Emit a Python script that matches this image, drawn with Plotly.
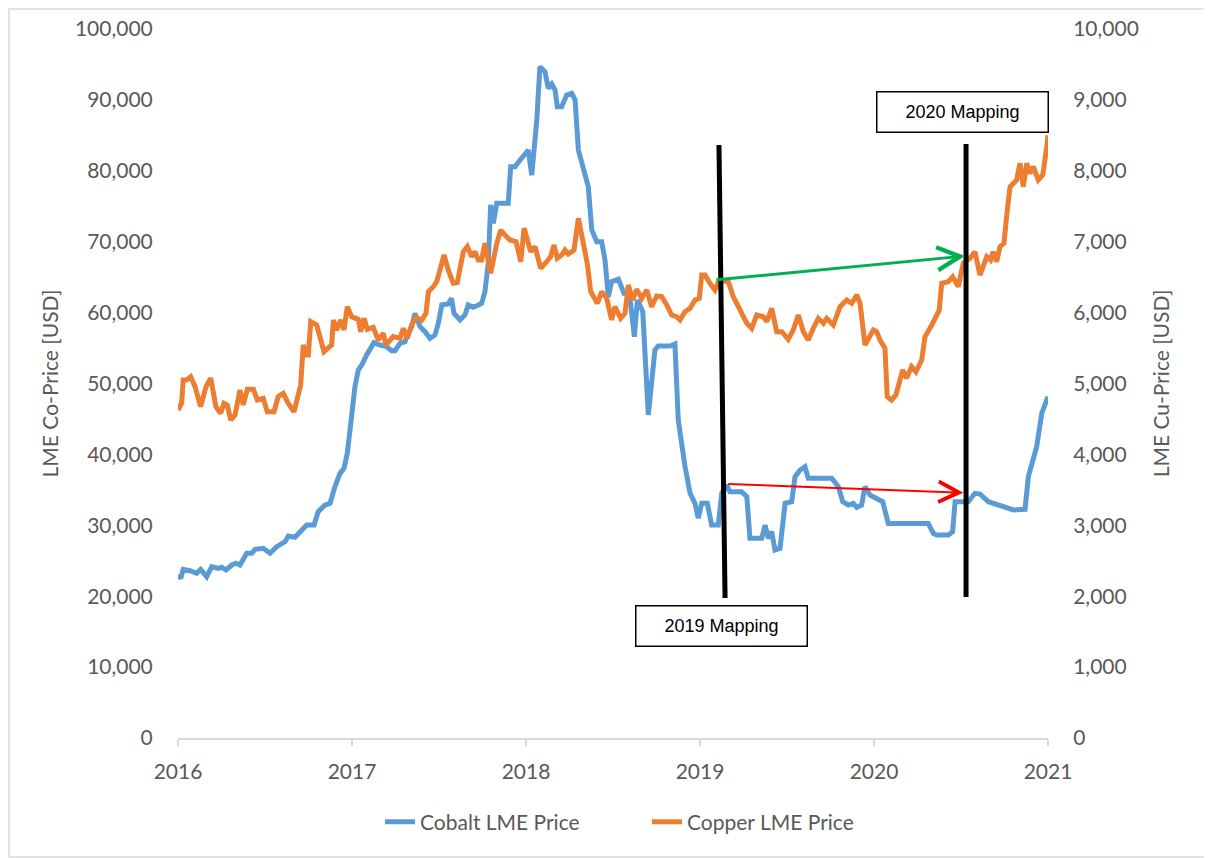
import plotly.graph_objects as go

# ---------------- data ----------------
cobalt_x = [2016.000, 2016.016, 2016.030, 2016.069, 2016.107, 2016.130, 2016.165, 2016.194, 2016.232, 2016.251,
            2016.276, 2016.309, 2016.333, 2016.356, 2016.395, 2016.424, 2016.443, 2016.490, 2016.529, 2016.567,
            2016.615, 2016.634, 2016.672, 2016.740, 2016.782, 2016.806, 2016.845, 2016.874, 2016.902, 2016.931,
            2016.954, 2016.973, 2016.993, 2017.017, 2017.036, 2017.056, 2017.084, 2017.113, 2017.126, 2017.161,
            2017.199, 2017.228, 2017.247, 2017.276, 2017.305, 2017.318, 2017.343, 2017.362, 2017.391, 2017.420,
            2017.448, 2017.477, 2017.496, 2017.516, 2017.553, 2017.572, 2017.586, 2017.621, 2017.649, 2017.668,
            2017.697, 2017.726, 2017.745, 2017.764, 2017.783, 2017.797, 2017.812, 2017.832, 2017.898, 2017.912,
            2017.937, 2017.966, 2018.000, 2018.013, 2018.033, 2018.062, 2018.080, 2018.109, 2018.128, 2018.148,
            2018.167, 2018.180, 2018.205, 2018.234, 2018.263, 2018.282, 2018.301, 2018.329, 2018.358, 2018.378,
            2018.407, 2018.435, 2018.454, 2018.473, 2018.492, 2018.531, 2018.563, 2018.594, 2018.623, 2018.640,
            2018.671, 2018.703, 2018.741, 2018.760, 2018.828, 2018.856, 2018.875, 2018.914, 2018.943, 2018.971,
            2018.990, 2019.010, 2019.042, 2019.067, 2019.105, 2019.125, 2019.153, 2019.172, 2019.239, 2019.269,
            2019.287, 2019.355, 2019.374, 2019.393, 2019.412, 2019.431, 2019.460, 2019.489, 2019.527, 2019.546,
            2019.575, 2019.603, 2019.622, 2019.757, 2019.795, 2019.820, 2019.852, 2019.881, 2019.901, 2019.929,
            2019.948, 2019.977, 2020.015, 2020.050, 2020.082, 2020.312, 2020.341, 2020.360, 2020.427, 2020.452,
            2020.466, 2020.542, 2020.580, 2020.609, 2020.657, 2020.685, 2020.724, 2020.753, 2020.801, 2020.868,
            2020.887, 2020.935, 2020.964, 2021.000]
cobalt_price = [22990, 22520, 23790, 23600, 23230, 23790, 22750, 24160, 23930, 24070,
                23700, 24400, 24640, 24400, 26050, 26050, 26610, 26750, 26050, 26980,
                27690, 28490, 28310, 30040, 30040, 31920, 32860, 33100, 35450, 37330,
                38040, 40160, 44390, 49550, 51900, 52610, 54020, 55190, 55760, 55430,
                55190, 54630, 54630, 55670, 55900, 56840, 58010, 59900, 58010, 57300,
                56370, 56840, 58490, 61070, 61210, 62020, 59900, 58960, 59660, 61070,
                60740, 61070, 61310, 62950, 66950, 75180, 72590, 75410, 75410, 80580,
                80580, 81520, 82700, 82930, 79400, 87170, 94690, 93980, 91630, 92240,
                91400, 89040, 89040, 90690, 90930, 90020, 82930, 80110, 77760, 71650,
                70000, 70000, 67420, 62240, 64360, 64700, 62720, 62720, 56600, 61780,
                60130, 45560, 54720, 55290, 55290, 55570, 44850, 38270, 34510, 33100,
                30990, 33100, 33100, 30040, 30040, 34510, 35680, 34740, 34740, 34030,
                28160, 28160, 30040, 28160, 29100, 26520, 26750, 33100, 33330, 36860,
                37800, 38270, 36630, 36630, 35450, 33330, 32860, 33100, 32530, 32860,
                35450, 34270, 33800, 33330, 30270, 30270, 28860, 28630, 28630, 29100,
                33330, 33330, 34510, 34410, 33330, 33100, 32860, 32620, 32160, 32250,
                36860, 41090, 45790, 48140]

copper_x = [2016.000, 2016.021, 2016.030, 2016.050, 2016.073, 2016.098, 2016.130, 2016.161, 2016.188, 2016.218,
            2016.245, 2016.264, 2016.283, 2016.303, 2016.328, 2016.356, 2016.375, 2016.398, 2016.433, 2016.456,
            2016.490, 2016.513, 2016.552, 2016.576, 2016.605, 2016.634, 2016.667, 2016.705, 2016.720, 2016.736,
            2016.749, 2016.763, 2016.797, 2016.839, 2016.883, 2016.893, 2016.912, 2016.935, 2016.954, 2016.973,
            2016.998, 2017.036, 2017.050, 2017.069, 2017.088, 2017.122, 2017.151, 2017.180, 2017.195, 2017.237,
            2017.276, 2017.295, 2017.318, 2017.343, 2017.368, 2017.401, 2017.425, 2017.439, 2017.467, 2017.487,
            2017.529, 2017.553, 2017.582, 2017.605, 2017.640, 2017.663, 2017.688, 2017.707, 2017.726, 2017.745,
            2017.764, 2017.797, 2017.832, 2017.855, 2017.879, 2017.908, 2017.943, 2017.970, 2017.989, 2018.007,
            2018.027, 2018.052, 2018.084, 2018.119, 2018.142, 2018.161, 2018.180, 2018.205, 2018.224, 2018.243,
            2018.276, 2018.301, 2018.329, 2018.352, 2018.372, 2018.410, 2018.435, 2018.464, 2018.492, 2018.511,
            2018.544, 2018.569, 2018.588, 2018.613, 2018.636, 2018.665, 2018.694, 2018.722, 2018.751, 2018.780,
            2018.809, 2018.837, 2018.866, 2018.885, 2018.914, 2018.943, 2018.971, 2018.996, 2019.010, 2019.029,
            2019.057, 2019.086, 2019.111, 2019.163, 2019.191, 2019.230, 2019.269, 2019.297, 2019.326, 2019.364,
            2019.384, 2019.412, 2019.441, 2019.470, 2019.507, 2019.536, 2019.565, 2019.594, 2019.622, 2019.651,
            2019.680, 2019.709, 2019.728, 2019.766, 2019.805, 2019.843, 2019.872, 2019.901, 2019.920, 2019.948,
            2019.967, 2019.996, 2020.015, 2020.034, 2020.063, 2020.076, 2020.101, 2020.126, 2020.165, 2020.187,
            2020.216, 2020.241, 2020.274, 2020.293, 2020.332, 2020.375, 2020.389, 2020.427, 2020.452, 2020.484,
            2020.513, 2020.552, 2020.580, 2020.609, 2020.648, 2020.670, 2020.685, 2020.705, 2020.724, 2020.747,
            2020.764, 2020.782, 2020.820, 2020.839, 2020.858, 2020.878, 2020.897, 2020.916, 2020.944, 2020.970,
            2020.993, 2021.000]
copper_price = [4626, 4725, 5049, 5049, 5096, 4955, 4673, 4955, 5073, 4673,
                4580, 4720, 4697, 4485, 4556, 4908, 4697, 4918, 4918, 4767,
                4791, 4602, 4602, 4814, 4861, 4720, 4602, 4979, 5543, 5402,
                5402, 5872, 5825, 5449, 5543, 5896, 5755, 5896, 5755, 6083,
                5942, 5905, 5731, 5919, 5764, 5792, 5614, 5708, 5543, 5661,
                5637, 5778, 5637, 5825, 5933, 5896, 5990, 6295, 6366, 6436,
                6812, 6601, 6413, 6422, 6859, 6930, 6789, 6859, 6742, 6742,
                6977, 6554, 6977, 7165, 7094, 7024, 7000, 6718, 7189, 7048,
                6859, 6930, 6625, 6718, 6789, 6953, 6766, 6812, 6883, 6826,
                6883, 7330, 6930, 6695, 6295, 6131, 6295, 6201, 5896, 6083,
                5919, 5990, 6389, 6178, 6328, 6201, 6319, 6083, 6234, 6225,
                6107, 5966, 5942, 5896, 6013, 6060, 6178, 6201, 6530, 6530,
                6413, 6319, 6460, 6436, 6225, 6037, 5849, 5778, 5966, 5942,
                5872, 6060, 5731, 5731, 5623, 5755, 5966, 5731, 5614, 5778,
                5919, 5849, 5919, 5825, 6083, 6178, 6131, 6248, 6131, 5543,
                5637, 5755, 5731, 5614, 5496, 4814, 4767, 4838, 5190, 5073,
                5237, 5166, 5331, 5660, 5825, 6037, 6413, 6436, 6506, 6366,
                6695, 6766, 6859, 6530, 6789, 6742, 6859, 6718, 6930, 6977,
                7400, 7776, 7870, 8105, 7776, 8105, 7964, 8058, 7870, 7941,
                8340, 8500]

year_ticks = [2016, 2017, 2018, 2019, 2020, 2021]
series_names = ["Cobalt LME Price", "Copper LME Price"]

# annotation anchor values (in data units)
map2019_line = dict(x0=2019.109, y0=83640, x1=2019.144, y1=19750)
map2020_line = dict(x0=2020.529, y0=83780, x1=2020.529, y1=19890)
green_arrow = dict(x_from=2019.086, y_from=6460, x_to=2020.523, y_to=6798)   # copper axis
red_arrow = dict(x_from=2019.153, y_from=35825, x_to=2020.513, y_to=34600)   # cobalt axis
box2019 = dict(x=2019.126, y=15797, text="2019 Mapping")
box2020 = dict(x=2020.509, y=88293, text="2020 Mapping")

# ---------------- figure ----------------
BLUE = "#5B9BD5"
ORANGE = "#ED7D31"
GREY_TXT = "#595959"
AXIS_GREY = "#D9D9D9"
FONT = "Lato"

fig = go.Figure()
fig.add_trace(go.Scatter(x=cobalt_x, y=cobalt_price, name=series_names[0], mode="lines",
                         line=dict(color=BLUE, width=5), yaxis="y"))
fig.add_trace(go.Scatter(x=copper_x, y=copper_price, name=series_names[1], mode="lines",
                         line=dict(color=ORANGE, width=5), yaxis="y2"))

# the page body adds an 8px offset; size the figure so the plot lands where the reference has it
OFF = 8
L, R, T, B = 178 - OFF, 164, 29 - OFF, 120
W, H = 1212 - OFF, 858 - OFF
pw, ph = W - L - R, H - T - B
px0, py0 = L, T + ph  # figure px of plot-area bottom-left


def fx(page_x):
    return (page_x - OFF - px0) / pw


def fy(page_y):
    return (py0 - (page_y - OFF)) / ph


fig.update_layout(
    width=W, height=H,
    margin=dict(l=L, r=R, t=T, b=B, autoexpand=False),
    paper_bgcolor="white", plot_bgcolor="white",
    font=dict(family=FONT, size=21, color=GREY_TXT),
    showlegend=True,
    legend=dict(orientation="h", x=fx(380), xanchor="left", y=fy(822), yanchor="middle",
                entrywidth=222, entrywidthmode="pixels",
                font=dict(family=FONT, size=21, color=GREY_TXT),
                bgcolor="rgba(0,0,0,0)"),
    xaxis=dict(range=[2016, 2021], tickvals=year_ticks, ticktext=[str(v) for v in year_ticks],
               showgrid=False, zeroline=False, showline=True, linecolor=AXIS_GREY, linewidth=1.5,
               ticks="outside", ticklen=6, tickcolor=AXIS_GREY, tickwidth=1.5,
               ticklabelstandoff=8, tickfont=dict(family=FONT, size=21, color=GREY_TXT)),
    yaxis=dict(range=[0, 100000], dtick=10000, tickformat=",", showgrid=False, zeroline=False,
               showline=False, ticks="outside", ticklen=20, tickcolor="rgba(0,0,0,0)",
               tickfont=dict(family=FONT, size=21, color=GREY_TXT),
               title=dict(text="LME Co-Price [USD]", font=dict(family=FONT, size=21, color=GREY_TXT),
                          standoff=10)),
    yaxis2=dict(range=[0, 10000], dtick=1000, tickformat=",", overlaying="y", side="right",
                showgrid=False, zeroline=False, showline=False, ticks="outside", ticklen=20,
                tickcolor="rgba(0,0,0,0)", tickfont=dict(family=FONT, size=21, color=GREY_TXT),
                title=dict(text="LME Cu-Price [USD]", font=dict(family=FONT, size=21, color=GREY_TXT),
                           standoff=16)),
)

shapes = []
# chart-area border (as close to the page edges as the figure allows)
shapes.append(dict(type="rect", xref="paper", yref="paper",
                   x0=fx(OFF + 1), x1=fx(1210), y0=fy(857), y1=fy(OFF + 1),
                   line=dict(color=AXIS_GREY, width=1.5), fillcolor="rgba(0,0,0,0)", layer="below"))
for ln in (map2019_line, map2020_line):
    shapes.append(dict(type="line", xref="x", yref="y", line=dict(color="black", width=5), **ln))
fig.update_layout(shapes=shapes)

annotations = [
    dict(x=green_arrow["x_to"], y=green_arrow["y_to"], xref="x", yref="y2",
         ax=green_arrow["x_from"], ay=green_arrow["y_from"], axref="x", ayref="y2",
         text="", showarrow=True, arrowhead=5, arrowsize=1.5, arrowwidth=3, arrowcolor="#00B050"),
    dict(x=red_arrow["x_to"], y=red_arrow["y_to"], xref="x", yref="y",
         ax=red_arrow["x_from"], ay=red_arrow["y_from"], axref="x", ayref="y",
         text="", showarrow=True, arrowhead=5, arrowsize=2.0, arrowwidth=2, arrowcolor="#FF0000"),
]
for bx in (box2019, box2020):
    annotations.append(dict(x=bx["x"], y=bx["y"], xref="x", yref="y", text=bx["text"], showarrow=False,
                            xanchor="center", yanchor="middle", width=168, height=37, borderpad=1,
                            bgcolor="white", bordercolor="black", borderwidth=1.5,
                            font=dict(family="Liberation Sans, Arial", size=18, color="black")))
fig.update_layout(annotations=annotations)

fig.write_html("out.html")
